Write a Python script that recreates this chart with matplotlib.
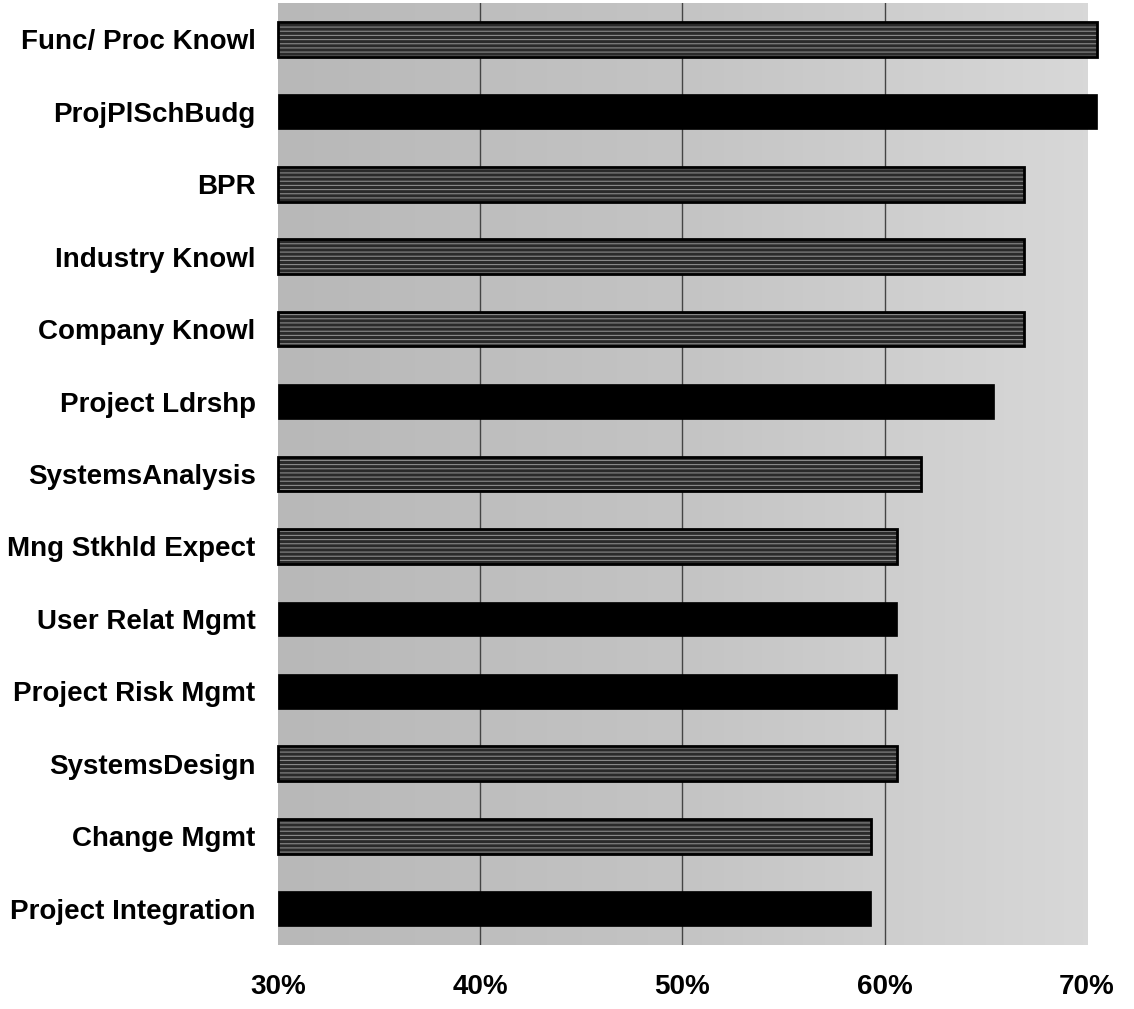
import numpy as np
import matplotlib
matplotlib.use("Agg")
import matplotlib.pyplot as plt
from matplotlib.ticker import FuncFormatter

# Skill categories, top to bottom
categories = [
    "Func/ Proc Knowl",
    "ProjPlSchBudg",
    "BPR",
    "Industry Knowl",
    "Company Knowl",
    "Project Ldrshp",
    "SystemsAnalysis",
    "Mng Stkhld Expect",
    "User Relat Mgmt",
    "Project Risk Mgmt",
    "SystemsDesign",
    "Change Mgmt",
    "Project Integration",
]

# Share of respondents rating the skill as important (%)
values = [70.5, 70.5, 66.9, 66.9, 66.9, 65.4, 61.8, 60.6, 60.6, 60.6, 60.6, 59.3, 59.3]

# Project-management skills are drawn solid, the rest textured
is_project_mgmt = [False, True, False, False, False, True, False,
                   False, True, True, False, False, True]

x_ticks = [30, 40, 50, 60, 70]

plt.rcParams["font.family"] = ["Liberation Sans", "DejaVu Sans"]
plt.rcParams["hatch.linewidth"] = 0.8

fig = plt.figure(figsize=(11.34, 10.09), dpi=100)
ax = fig.add_axes([0.245, 0.0634, 0.7135, 0.9336])

# shaded plot area: darker on the left, lighter to the right
grad = np.linspace(0.0, 1.0, 256).reshape(1, -1)
ax.imshow(grad, extent=[30, 70, 12.5, -0.5], aspect="auto",
          cmap=matplotlib.colors.LinearSegmentedColormap.from_list(
              "bg", ["#b8b8b8", "#c4c4c4", "#d8d8d8"]),
          zorder=0, interpolation="bilinear")

ax.set_xlim(30, 70)
ax.set_ylim(12.5, -0.5)

for x in [40, 50, 60]:
    ax.axvline(x, color="#444444", lw=1.0, zorder=1)

y = np.arange(len(categories))
bar_h = 0.48
for yi, v, pm in zip(y, values, is_project_mgmt):
    if pm:
        ax.barh(yi, v - 30, left=30, height=bar_h, color="black",
                edgecolor="black", lw=0.5, zorder=3, clip_on=False)
    else:
        ax.barh(yi, v - 30, left=30, height=bar_h, color="#2a2a2a",
                edgecolor="#8a8a8a", hatch="----", lw=0, zorder=3, clip_on=False)
        ax.barh(yi, v - 30, left=30, height=bar_h, fill=False,
                edgecolor="black", lw=2.0, zorder=4, clip_on=False)

ax.set_yticks(y)
ax.set_yticklabels(categories, fontsize=20, fontweight="bold")
ax.set_xticks(x_ticks)
ax.xaxis.set_major_formatter(FuncFormatter(lambda v, p: f"{v:.0f}%"))
ax.tick_params(axis="x", length=0, pad=21, labelsize=20)
ax.tick_params(axis="y", length=0, pad=16)
for lab in ax.get_xticklabels():
    lab.set_fontweight("bold")

for s in ax.spines.values():
    s.set_visible(False)

fig.savefig("out.png", dpi=100, facecolor="white")
